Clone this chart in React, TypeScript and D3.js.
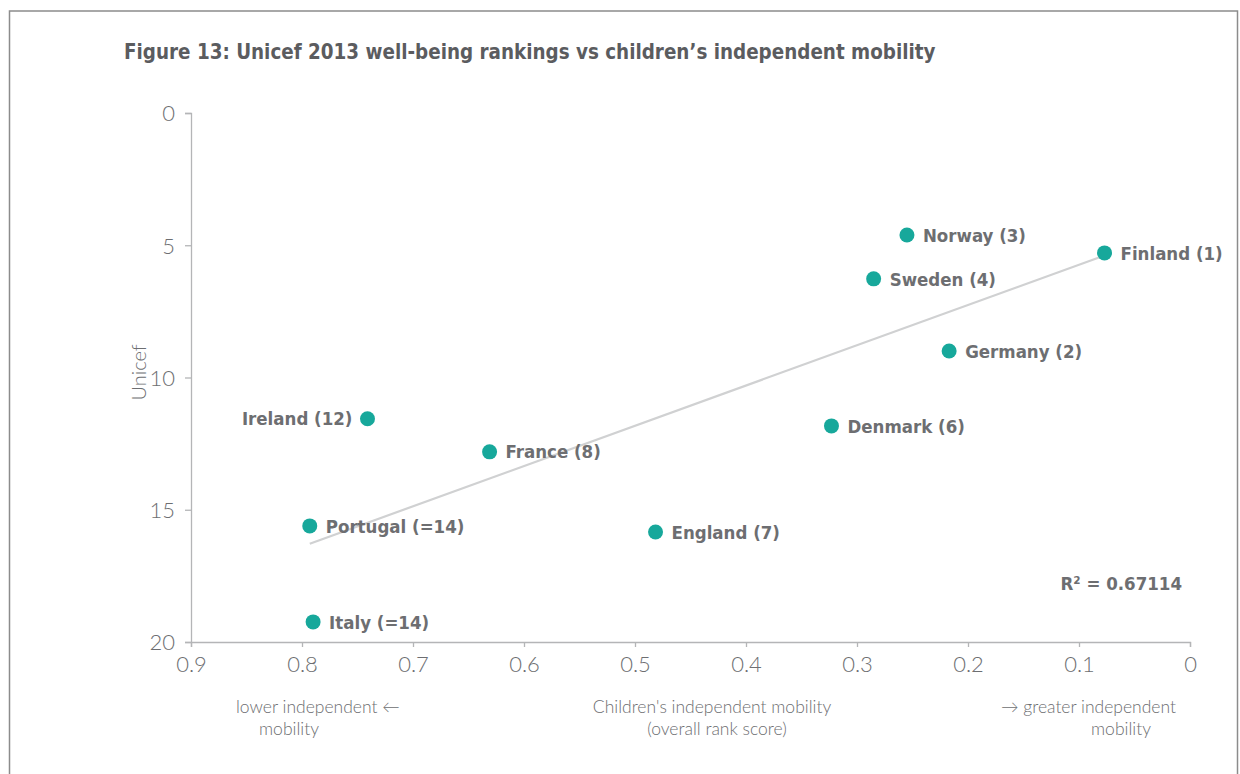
import { useEffect, useRef } from "react"
import * as d3 from "d3"

// Data
const countries = ["Finland", "Norway", "Sweden", "Germany", "Denmark", "England", "France", "Ireland", "Portugal", "Italy"]
const ranks = ["1", "3", "4", "2", "6", "7", "8", "12", "=14", "=14"]
const mobility = [0.077, 0.255, 0.285, 0.217, 0.323, 0.4815, 0.631, 0.741, 0.793, 0.79]
const unicef = [5.29, 4.61, 6.27, 9.0, 11.83, 15.84, 12.81, 11.56, 15.61, 19.24]

const xTicks = [0.9, 0.8, 0.7, 0.6, 0.5, 0.4, 0.3, 0.2, 0.1, 0]
const yTicks = [0, 5, 10, 15, 20]

const TEXT = "#6d6e71"
const DOT = "#17a89b"
const BOLD_FONT = "'DejaVu Sans Condensed', sans-serif"
const LIGHT_FONT = "Lato, 'Open Sans', sans-serif"

export default function App() {
  const svgRef = useRef<SVGSVGElement>(null)

  useEffect(() => {
    if (!svgRef.current) return
    const svg = d3.select(svgRef.current)
    svg.selectAll("*").remove()

    const x = d3.scaleLinear().domain([0.9, 0]).range([191, 1190])
    const y = d3.scaleLinear().domain([0, 20]).range([113, 642])

    // frame
    svg.append("rect")
      .attr("x", 9.5).attr("y", 11).attr("width", 1228).attr("height", 790)
      .attr("fill", "white").attr("stroke", "#8c8c8c").attr("stroke-width", 1.5)

    svg.append("text")
      .attr("x", 124).attr("y", 59)
      .attr("fill", "#5b5c5f")
      .style("font-family", BOLD_FONT).style("font-weight", "700").style("font-size", "20.4px")
      .text("Figure 13: Unicef 2013 well-being rankings vs children\u2019s independent mobility")

    // axes
    const xAxis = svg.append("g")
      .attr("transform", `translate(0,${y(20)})`)
      .call(d3.axisBottom(x).tickValues(xTicks).tickSize(5).tickPadding(9).tickFormat((d) => d3.format("")(d as number)))
    const yAxis = svg.append("g")
      .attr("transform", `translate(${x(0.9)},0)`)
      .call(d3.axisLeft(y).tickValues(yTicks).tickSize(6).tickPadding(10).tickSizeOuter(6))
    ;[xAxis, yAxis].forEach((a) => {
      a.selectAll(".domain, .tick line").attr("stroke", "#b4b5b7").attr("stroke-width", 1.3)
      a.selectAll("text")
        .attr("fill", TEXT)
        .style("font-family", LIGHT_FONT).style("font-weight", "300").style("font-size", "22px")
    })
    yAxis.selectAll("text").attr("dy", "0.36em")

    svg.append("text")
      .attr("transform", `translate(146,${y(10) - 5}) rotate(-90)`)
      .attr("text-anchor", "middle")
      .attr("fill", TEXT)
      .style("font-family", LIGHT_FONT).style("font-weight", "300").style("font-size", "20px")
      .text("Unicef")

    // trend line (least squares)
    const mx = d3.mean(mobility) as number
    const my = d3.mean(unicef) as number
    const sxy = d3.sum(mobility, (v, i) => (v - mx) * (unicef[i] - my))
    const sxx = d3.sum(mobility, (v) => (v - mx) ** 2)
    const slope = sxy / sxx
    const [x0, x1] = d3.extent(mobility) as [number, number]
    const line = d3.line<number>().x((v) => x(v)).y((v) => y(my + slope * (v - mx)))
    svg.append("path")
      .datum([x1, x0])
      .attr("d", line)
      .attr("fill", "none").attr("stroke", "#d0d1d2").attr("stroke-width", 2.2)

    // points
    const pts = countries.map((c, i) => ({ c, r: ranks[i], mx: mobility[i], u: unicef[i] }))
    svg.selectAll(".dot").data(pts).enter().append("circle")
      .attr("cx", (d) => x(d.mx)).attr("cy", (d) => y(d.u)).attr("r", 7.5).attr("fill", DOT)

    svg.selectAll(".lbl").data(pts).enter().append("text")
      .attr("x", (d) => (d.c === "Ireland" ? x(d.mx) - 15 : x(d.mx) + 16))
      .attr("y", (d) => y(d.u))
      .attr("dy", "0.36em")
      .attr("text-anchor", (d) => (d.c === "Ireland" ? "end" : "start"))
      .attr("fill", TEXT)
      .style("font-family", BOLD_FONT).style("font-weight", "700").style("font-size", "18.5px")
      .text((d) => `${d.c} (${d.r})`)

    svg.append("text")
      .attr("x", 1182).attr("y", 590).attr("text-anchor", "end")
      .attr("fill", TEXT)
      .style("font-family", BOLD_FONT).style("font-weight", "700").style("font-size", "18.5px")
      .text("R\u00b2 = 0.67114")

    // bottom annotations
    const notes: [number, number, string, string][] = [
      [236, 713, "start", "lower independent \u2190"],
      [289, 735, "middle", "mobility"],
      [712, 713, "middle", "Children's independent mobility"],
      [717, 735, "middle", "(overall rank score)"],
      [1001, 713, "start", "\u2192 greater independent"],
      [1121, 735, "middle", "mobility"],
    ]
    svg.selectAll(".note").data(notes).enter().append("text")
      .attr("x", (d) => d[0]).attr("y", (d) => d[1]).attr("text-anchor", (d) => d[2])
      .attr("fill", TEXT)
      .style("font-family", LIGHT_FONT).style("font-weight", "300").style("font-size", "17.5px")
      .text((d) => d[3])
  }, [])

  return (
    <svg
      ref={svgRef}
      width={1240}
      height={774}
      style={{ position: "absolute", left: 0, top: 0, background: "white" }}
    />
  )
}
